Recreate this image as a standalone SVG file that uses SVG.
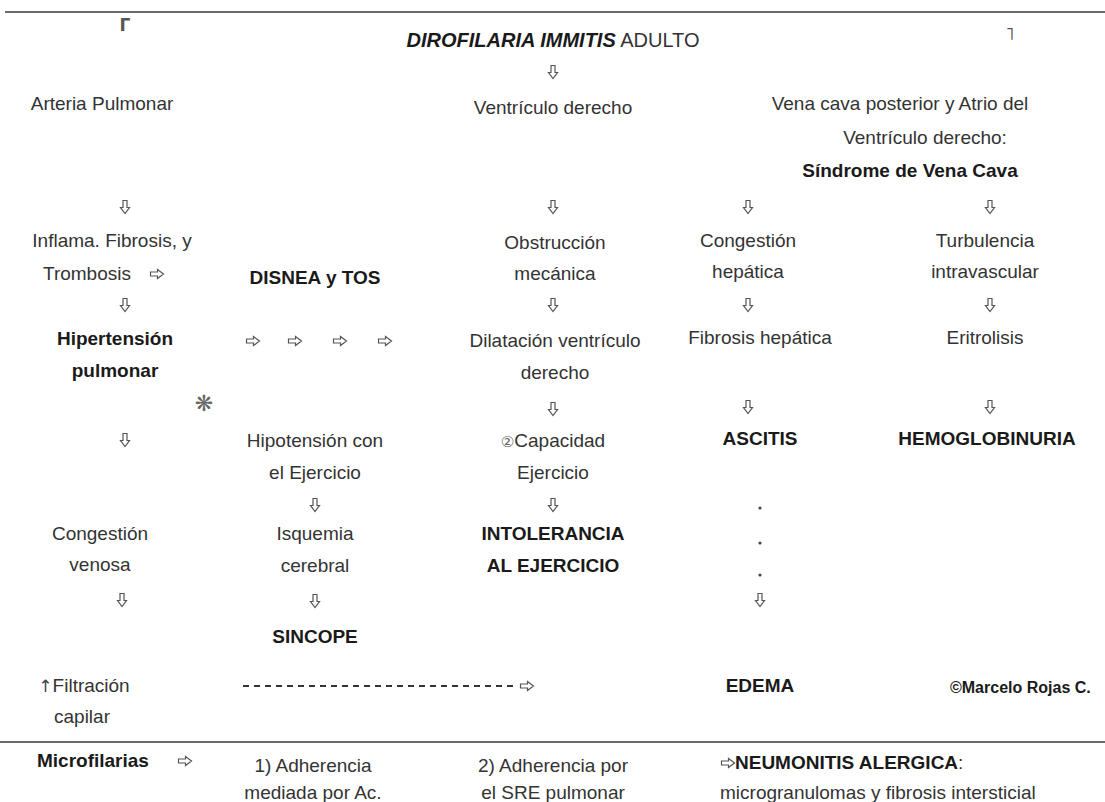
<svg xmlns="http://www.w3.org/2000/svg" xmlns:xlink="http://www.w3.org/1999/xlink" width="1105" height="802" viewBox="0 0 1105 802">
<style>
text{font-family:"Liberation Sans",Arial,sans-serif;font-size:19px;fill:#333;text-anchor:middle}
.b{font-weight:bold;fill:#1a1a1a;font-size:19px}
.st{text-anchor:start}
.ar{fill:#fff;stroke:#555;stroke-width:1.2;stroke-linejoin:miter}
.rule{stroke:#6a6a6a;stroke-width:2.2}
.dash{stroke:#333;stroke-width:1.8;stroke-dasharray:6 5}
.sym{fill:#555;font-family:"DejaVu Sans",sans-serif}
</style>
<defs>
<path id="dn" class="ar" d="M-2,-6.5 H2 V0.5 H4.5 L0,6.5 L-4.5,0.5 H-2 Z"/>
<path id="rt" class="ar" d="M-6.5,-2 H0.5 V-4.5 L6.5,0 L0.5,4.5 V2 H-6.5 Z"/>
</defs>
<rect width="1105" height="802" fill="#fff"/>
<line class="rule" x1="5" y1="12" x2="1105" y2="12"/>
<line class="rule" x1="0" y1="742" x2="1105" y2="742"/>
<text class="sym" x="125" y="31" style="font-size:17px;font-weight:bold">Γ</text>
<text class="sym" x="1010" y="40" style="font-size:18px">˥</text>

<g id="title"><text x="553" y="47" style="font-size:20px"><tspan class="b" font-style="italic" style="font-size:20px">DIROFILARIA IMMITIS</tspan> ADULTO</text></g>
<g id="arteria"><text x="102" y="110">Arteria Pulmonar</text></g>
<g id="ventriculo"><text x="553" y="114">Ventrículo derecho</text></g>
<g id="venacava"><text x="900" y="110">Vena cava posterior y Atrio del</text><text x="925" y="144">Ventrículo derecho:</text><text class="b" x="910" y="177">Síndrome de Vena Cava</text></g>
<g id="inflama"><text x="112" y="247">Inflama. Fibrosis, y</text><text x="87" y="280">Trombosis</text></g>
<g id="disnea"><text class="b" x="315" y="284">DISNEA y TOS</text></g>
<g id="obstruccion"><text x="555" y="249">Obstrucción</text><text x="555" y="280">mecánica</text></g>
<g id="congestion-hep"><text x="748" y="247">Congestión</text><text x="748" y="278">hepática</text></g>
<g id="turbulencia"><text x="985" y="247">Turbulencia</text><text x="985" y="278">intravascular</text></g>
<g id="hipertension"><text class="b" x="115" y="345">Hipertensión</text><text class="b" x="115" y="377">pulmonar</text></g>
<g id="dilatacion"><text x="555" y="347">Dilatación ventrículo</text><text x="555" y="379">derecho</text></g>
<g id="fibrosis-hep"><text x="760" y="344">Fibrosis hepática</text></g>
<g id="eritrolisis"><text x="985" y="344">Eritrolisis</text></g>
<g id="star"><text class="sym" x="204" y="411" style="font-size:22px;fill:#666">❋</text></g>
<g id="hipotension"><text x="315" y="447">Hipotensión con</text><text x="315" y="479">el Ejercicio</text></g>
<g id="capacidad"><text x="553" y="447"><tspan class="sym" style="font-size:15px;fill:#666">②</tspan>Capacidad</text><text x="553" y="479">Ejercicio</text></g>
<g id="ascitis"><text class="b" x="760" y="445">ASCITIS</text></g>
<g id="hemoglobinuria"><text class="b" x="987" y="445">HEMOGLOBINURIA</text></g>
<g id="congestion-ven"><text x="100" y="540">Congestión</text><text x="100" y="571">venosa</text></g>
<g id="isquemia"><text x="315" y="540">Isquemia</text><text x="315" y="572">cerebral</text></g>
<g id="intolerancia"><text class="b" x="553" y="540">INTOLERANCIA</text><text class="b" x="553" y="572">AL EJERCICIO</text></g>
<g id="sincope"><text class="b" x="315" y="643">SINCOPE</text></g>
<g id="filtracion"><text x="84" y="692"><tspan class="sym" style="font-size:17px;fill:#444">↑</tspan>Filtración</text><text x="82" y="723">capilar</text></g>
<g id="edema"><text class="b" x="760" y="692">EDEMA</text></g>
<g id="credit"><text class="b st" x="950" y="693" style="font-size:16px">©Marcelo Rojas C.</text></g>
<g id="microfilarias"><text class="b st" x="37" y="767">Microfilarias</text></g>
<g id="adherencia1"><text x="313" y="772">1) Adherencia</text><text x="313" y="799">mediada por Ac.</text></g>
<g id="adherencia2"><text x="553" y="772">2) Adherencia por</text><text x="553" y="799">el SRE pulmonar</text></g>
<g id="neumonitis"><text class="st" x="735" y="769"><tspan class="b">NEUMONITIS ALERGICA</tspan>:</text><text class="st" x="720" y="799">microgranulomas y fibrosis intersticial</text></g>

<g id="connectors">
<use xlink:href="#dn" x="553" y="72"/>
<use xlink:href="#dn" x="125" y="207"/><use xlink:href="#dn" x="553" y="207"/><use xlink:href="#dn" x="748" y="207"/><use xlink:href="#dn" x="990" y="207"/>
<use xlink:href="#dn" x="125" y="305"/><use xlink:href="#dn" x="553" y="305"/><use xlink:href="#dn" x="748" y="305"/><use xlink:href="#dn" x="990" y="305"/>
<use xlink:href="#dn" x="553" y="409"/><use xlink:href="#dn" x="748" y="407"/><use xlink:href="#dn" x="990" y="407"/><use xlink:href="#dn" x="125" y="440"/>
<use xlink:href="#dn" x="315" y="505"/><use xlink:href="#dn" x="553" y="505"/>
<use xlink:href="#dn" x="122" y="600"/><use xlink:href="#dn" x="315" y="601"/><use xlink:href="#dn" x="760" y="600"/>
<use xlink:href="#rt" x="157" y="274"/>
<use xlink:href="#rt" x="253" y="341"/><use xlink:href="#rt" x="295" y="341"/><use xlink:href="#rt" x="340" y="341"/><use xlink:href="#rt" x="385" y="341"/>
<line class="dash" x1="243" y1="686" x2="518" y2="686"/>
<use xlink:href="#rt" x="527" y="686"/>
<use xlink:href="#rt" x="185" y="761"/>
<use xlink:href="#rt" x="728" y="763"/>
<circle cx="760" cy="508" r="1.6" fill="#444"/><circle cx="760" cy="543" r="1.6" fill="#444"/><circle cx="760" cy="575" r="1.6" fill="#444"/>
</g>
</svg>
